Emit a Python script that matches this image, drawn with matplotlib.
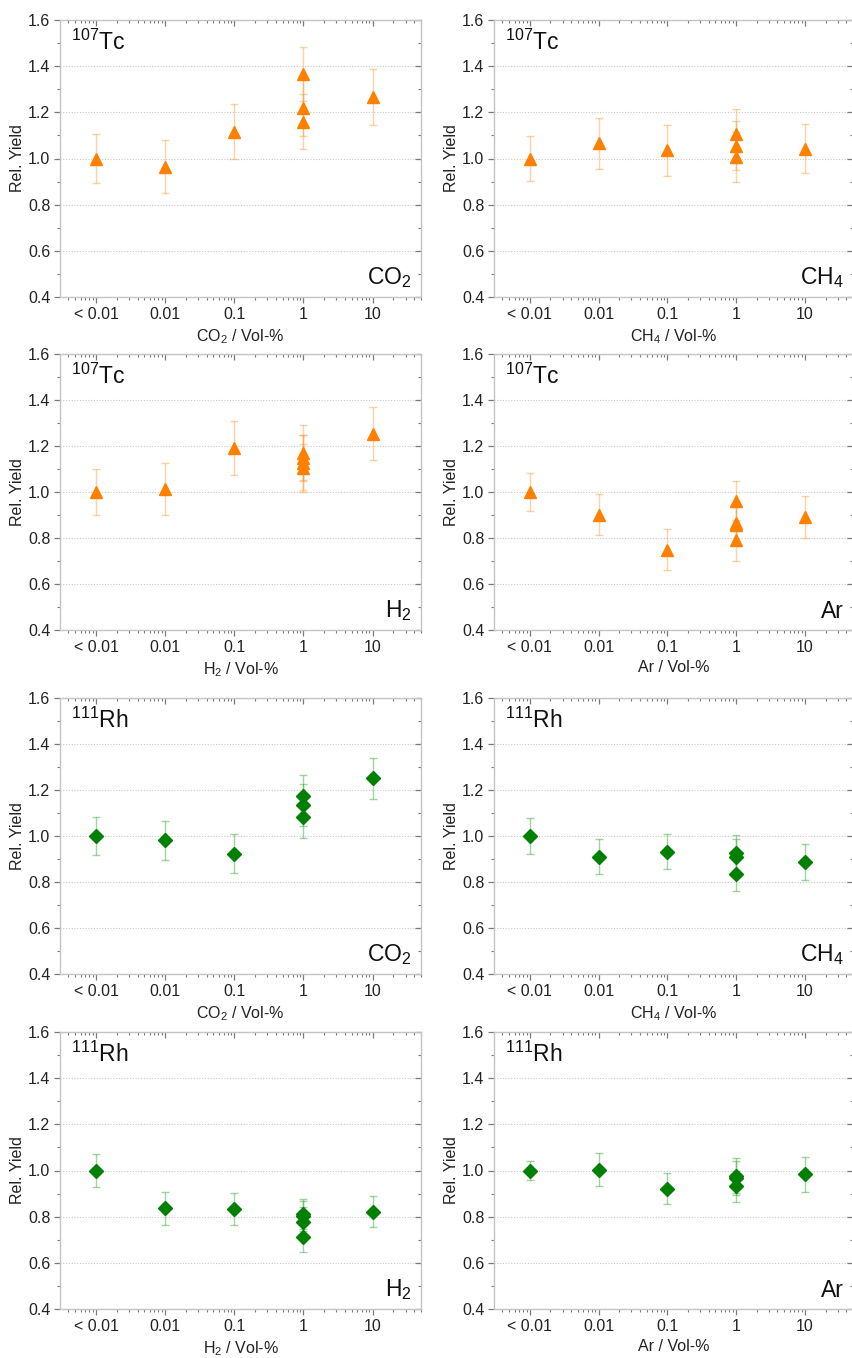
import numpy as np
import matplotlib
matplotlib.use("Agg")
import matplotlib.pyplot as plt
from matplotlib.ticker import LogLocator, FixedLocator, NullFormatter, MultipleLocator

plt.rcParams['font.family'] = ['Liberation Sans', 'DejaVu Sans']
plt.rcParams['mathtext.fontset'] = 'custom'
plt.rcParams['mathtext.rm'] = 'Liberation Sans'
plt.rcParams['mathtext.it'] = 'Liberation Sans:italic'

# x positions (Vol-%), "< 0.01" placed at 0.001
x_tick_vals = [0.001, 0.01, 0.1, 1, 10]
x_tick_labels = ["< 0.01", "0.01", "0.1", "1", "10"]

# ---- 107Tc ----
tc_co2_x = [0.001, 0.01, 0.1, 1, 1, 1, 10]
tc_co2_y = [1.00, 0.964, 1.116, 1.366, 1.218, 1.160, 1.265]
tc_co2_e = [0.108, 0.115, 0.120, 0.118, 0.120, 0.120, 0.122]

tc_ch4_x = [0.001, 0.01, 0.1, 1, 1, 1, 10]
tc_ch4_y = [1.00, 1.066, 1.036, 1.108, 1.056, 1.008, 1.043]
tc_ch4_e = [0.097, 0.110, 0.110, 0.106, 0.107, 0.108, 0.107]

tc_h2_x = [0.001, 0.01, 0.1, 1, 1, 1, 1, 10]
tc_h2_y = [1.00, 1.014, 1.192, 1.170, 1.150, 1.127, 1.103, 1.254]
tc_h2_e = [0.100, 0.112, 0.118, 0.120, 0.098, 0.120, 0.105, 0.116]

tc_ar_x = [0.001, 0.01, 0.1, 1, 1, 1, 1, 10]
tc_ar_y = [1.00, 0.902, 0.750, 0.962, 0.864, 0.855, 0.790, 0.892]
tc_ar_e = [0.081, 0.088, 0.087, 0.088, 0.090, 0.090, 0.090, 0.090]

# ---- 111Rh ----
rh_co2_x = [0.001, 0.01, 0.1, 1, 1, 1, 10]
rh_co2_y = [1.00, 0.982, 0.922, 1.176, 1.134, 1.081, 1.251]
rh_co2_e = [0.083, 0.085, 0.085, 0.090, 0.090, 0.088, 0.089]

rh_ch4_x = [0.001, 0.01, 0.1, 1, 1, 1, 10]
rh_ch4_y = [1.00, 0.910, 0.932, 0.928, 0.910, 0.836, 0.888]
rh_ch4_e = [0.078, 0.076, 0.076, 0.078, 0.077, 0.076, 0.078]

rh_h2_x = [0.001, 0.01, 0.1, 1, 1, 1, 1, 10]
rh_h2_y = [1.00, 0.836, 0.833, 0.812, 0.803, 0.778, 0.713, 0.821]
rh_h2_e = [0.071, 0.071, 0.068, 0.065, 0.066, 0.066, 0.066, 0.067]

rh_ar_x = [0.001, 0.01, 0.1, 1, 1, 1, 10]
rh_ar_y = [1.00, 1.004, 0.921, 0.978, 0.968, 0.931, 0.984]
rh_ar_e = [0.042, 0.071, 0.067, 0.075, 0.072, 0.066, 0.075]

ORANGE = "#FF8000"
GREEN = "#008000"

panels = [
    (tc_co2_x, tc_co2_y, tc_co2_e, "107", "Tc", "CO$_2$", "CO$_2$ / Vol-%", "tc"),
    (tc_ch4_x, tc_ch4_y, tc_ch4_e, "107", "Tc", "CH$_4$", "CH$_4$ / Vol-%", "tc"),
    (tc_h2_x, tc_h2_y, tc_h2_e, "107", "Tc", "H$_2$", "H$_2$ / Vol-%", "tc"),
    (tc_ar_x, tc_ar_y, tc_ar_e, "107", "Tc", "Ar", "Ar / Vol-%", "tc"),
    (rh_co2_x, rh_co2_y, rh_co2_e, "111", "Rh", "CO$_2$", "CO$_2$ / Vol-%", "rh"),
    (rh_ch4_x, rh_ch4_y, rh_ch4_e, "111", "Rh", "CH$_4$", "CH$_4$ / Vol-%", "rh"),
    (rh_h2_x, rh_h2_y, rh_h2_e, "111", "Rh", "H$_2$", "H$_2$ / Vol-%", "rh"),
    (rh_ar_x, rh_ar_y, rh_ar_e, "111", "Rh", "Ar", "Ar / Vol-%", "rh"),
]

W, H = 853, 1358
fig = plt.figure(figsize=(W / 100, H / 100), dpi=100)

col_lr = [(60, 421), (494, 853)]
row_tb = [(20, 297), (354, 630), (698, 974), (1032, 1309)]

FRAME = "#c4c4c4"
TICKC = "#7a7a7a"
FS = 11.5

for i, (xs, ys, es, mass, el, gas, xlabel, kind) in enumerate(panels):
    r, c = divmod(i, 2)
    l, rr = col_lr[c]
    t, b = row_tb[r]
    ax = fig.add_axes([l / W, 1 - b / H, (rr - l) / W, (b - t) / H])
    ax.set_xscale("log")
    ax.set_xlim(10 ** -3.52, 10 ** 1.70)
    ax.set_ylim(0.4, 1.6)

    if kind == "tc":
        ecol = (1.0, 0.6, 0.2, 0.45)
        ax.errorbar(xs, ys, yerr=es, fmt="none", ecolor=ecol, elinewidth=1.0,
                    capsize=3, capthick=1.0, zorder=2)
        ax.plot(xs, ys, linestyle="none", marker="^", markersize=8.5,
                color=ORANGE, markeredgecolor=ORANGE, zorder=3)
    else:
        ecol = (0.25, 0.68, 0.25, 0.5)
        ax.errorbar(xs, ys, yerr=es, fmt="none", ecolor=ecol, elinewidth=1.0,
                    capsize=3, capthick=1.0, zorder=2)
        ax.plot(xs, ys, linestyle="none", marker="D", markersize=7,
                color=GREEN, markeredgecolor=GREEN, zorder=3)

    ax.xaxis.set_major_locator(FixedLocator(x_tick_vals))
    ax.set_xticklabels(x_tick_labels)
    ax.xaxis.set_minor_locator(LogLocator(base=10, subs=np.arange(2, 10), numticks=20))
    ax.xaxis.set_minor_formatter(NullFormatter())
    ax.yaxis.set_minor_locator(MultipleLocator(0.1))
    ax.set_yticks([0.4, 0.6, 0.8, 1.0, 1.2, 1.4, 1.6])
    ax.set_yticklabels(["0.4", "0.6", "0.8", "1.0", "1.2", "1.4", "1.6"])

    ax.grid(axis="y", which="major", linestyle=(0, (1, 1.5)), color="#c8c8c8", linewidth=0.8)
    ax.set_axisbelow(True)

    for sp in ax.spines.values():
        sp.set_color(FRAME)
        sp.set_linewidth(1.0)

    ax.tick_params(axis="both", which="major", direction="out", length=4, width=0.9,
                   color=TICKC, labelsize=FS, labelcolor="#222222", pad=3)
    ax.tick_params(axis="both", which="minor", direction="out", length=2.5, width=0.8,
                   color=TICKC)
    ax.tick_params(axis="x", which="both", top=True)
    ax.tick_params(axis="y", which="both", right=True)
    for tk in ax.xaxis.get_major_ticks() + ax.xaxis.get_minor_ticks():
        tk.tick2line.set_marker(matplotlib.lines.TICKDOWN)
    for tk in ax.yaxis.get_major_ticks() + ax.yaxis.get_minor_ticks():
        tk.tick2line.set_marker(matplotlib.lines.TICKLEFT)

    ax.set_ylabel("Rel. Yield", fontsize=FS, color="#222222", labelpad=2)
    ax.set_xlabel(xlabel, fontsize=FS, color="#222222", labelpad=4)

    ax.text(0.03, 0.965, r"$^{\mathregular{%s}}$%s" % (mass, el), transform=ax.transAxes,
            ha="left", va="top", fontsize=16.5, color="#111111")
    ax.text(0.975, 0.025, gas, transform=ax.transAxes, ha="right", va="bottom",
            fontsize=16.5, color="#111111")

fig.savefig("out.png", dpi=100, facecolor="white")
